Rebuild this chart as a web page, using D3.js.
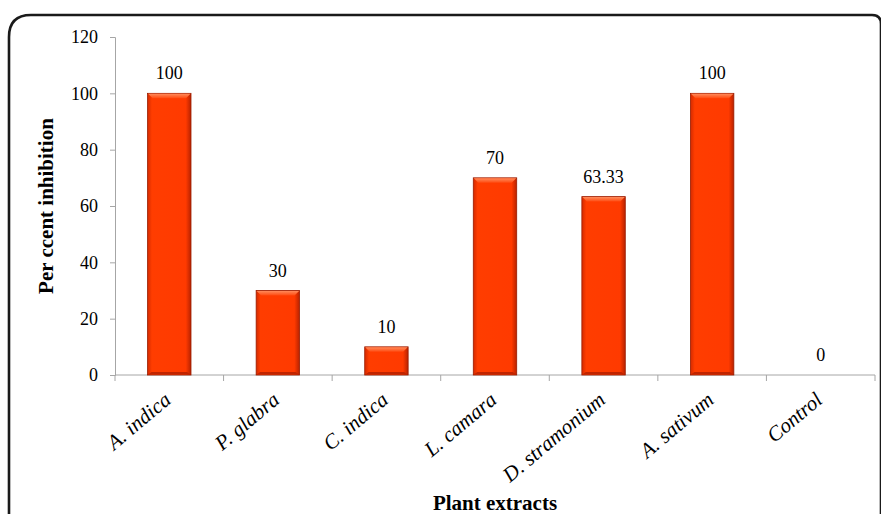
<!DOCTYPE html>
<html>
<head>
<meta charset="utf-8">
<script src="https://cdn.jsdelivr.net/npm/d3@7/dist/d3.min.js"></script>
<style>
  html, body { margin: 0; padding: 0; background: #fff; }
  svg { display: block; font-family: "Liberation Serif", "Times New Roman", serif; }
</style>
</head>
<body>
<svg id="chart" width="881" height="514"></svg>
<script>
// Per cent inhibition by plant extract
const categories = ["A. indica", "P. glabra", "C. indica", "L. camara", "D. stramonium", "A. sativum", "Control"];
const inhibition = [100, 30, 10, 70, 63.33, 100, 0];
const valueLabels = ["100", "30", "10", "70", "63.33", "100", "0"];
const yTicks = [0, 20, 40, 60, 80, 100, 120];

const svg = d3.select("#chart");
const W = 881, H = 514;
const plotLeft = 115, plotRight = 875, plotTop = 37, plotBottom = 375;

const x = d3.scaleBand().domain(categories).range([plotLeft, plotRight]).paddingInner(0.6).paddingOuter(0.3);
const y = d3.scaleLinear().domain([0, 120]).range([plotBottom, plotTop]);

// Outer frame with rounded corners
svg.append("path")
  .attr("d", `M9,${H + 10} L9,37 Q9,15 31,15 L872,15 Q881,15 881,24 L881,${H + 10}`)
  .attr("fill", "none").attr("stroke", "#1a1a1a").attr("stroke-width", 2.6);

// Bar gradients: bevelled orange-red
const defs = svg.append("defs");
const hg = defs.append("linearGradient").attr("id", "barH").attr("x1", 0).attr("x2", 1).attr("y1", 0).attr("y2", 0);
hg.append("stop").attr("offset", "0").attr("stop-color", "#d42a00");
hg.append("stop").attr("offset", "0.1").attr("stop-color", "#ff3d00");
hg.append("stop").attr("offset", "0.88").attr("stop-color", "#ff3a00");
hg.append("stop").attr("offset", "1").attr("stop-color", "#b82200");
const tg = defs.append("linearGradient").attr("id", "barTop").attr("x1", 0).attr("x2", 0).attr("y1", 0).attr("y2", 1);
tg.append("stop").attr("offset", "0").attr("stop-color", "#ff8a5a");
tg.append("stop").attr("offset", "1").attr("stop-color", "#ff4a10");

// Axes
const yAxis = svg.append("g").attr("transform", `translate(${plotLeft},0)`)
  .call(d3.axisLeft(y).tickValues(yTicks).tickSize(5).tickPadding(12).tickFormat(d3.format("d")));
yAxis.select(".domain").attr("stroke", "#a6a6a6");
yAxis.selectAll(".tick line").attr("stroke", "#a6a6a6");
yAxis.selectAll(".tick text").attr("font-size", 18).attr("fill", "#000")
  .attr("font-family", "Liberation Serif, Times New Roman, serif");

const bounds = categories.map((c, i) => plotLeft + x.step() * i).concat([plotRight]);
const xg = svg.append("g");
xg.append("line").attr("x1", plotLeft).attr("x2", plotRight).attr("y1", plotBottom).attr("y2", plotBottom).attr("stroke", "#a6a6a6");
xg.selectAll("line.tk").data(bounds).join("line").attr("class", "tk")
  .attr("x1", d => d).attr("x2", d => d).attr("y1", plotBottom).attr("y2", plotBottom + 6).attr("stroke", "#a6a6a6");

// Bars
const bars = svg.append("g").selectAll("g").data(categories.map((c, i) => ({ c, v: inhibition[i], lab: valueLabels[i] })))
  .join("g");
bars.filter(d => d.v > 0).each(function (d) {
  const g = d3.select(this);
  const bx = x(d.c), bw = x.bandwidth(), by = y(d.v), bh = y(0) - y(d.v);
  g.append("rect").attr("x", bx).attr("y", by).attr("width", bw).attr("height", bh)
    .attr("fill", "url(#barH)").attr("stroke", "#9a1c00").attr("stroke-width", 0.8);
  g.append("polygon")
    .attr("points", `${bx + 0.5},${by + 0.5} ${bx + bw - 0.5},${by + 0.5} ${bx + bw - 5},${by + 5} ${bx + 5},${by + 5}`)
    .attr("fill", "url(#barTop)");
  g.append("polygon")
    .attr("points", `${bx + 0.5},${by + bh - 0.5} ${bx + bw - 0.5},${by + bh - 0.5} ${bx + bw - 4},${by + bh - 3} ${bx + 4},${by + bh - 3}`)
    .attr("fill", "#c02400");
});

// Value labels
bars.append("text")
  .attr("x", d => x(d.c) + x.bandwidth() / 2)
  .attr("y", d => y(d.v) - 14)
  .attr("text-anchor", "middle").attr("font-size", 18).attr("fill", "#000")
  .text(d => d.lab);

// Category labels, rotated
svg.append("g").selectAll("text").data(categories).join("text")
  .attr("transform", d => `translate(${x(d) + x.bandwidth() / 2 + 3},${plotBottom + 27}) rotate(-40)`)
  .attr("text-anchor", "end").attr("font-size", 21).attr("font-style", "italic").attr("fill", "#000")
  .text(d => d);

// Axis titles
svg.append("text")
  .attr("transform", `translate(53,${(plotTop + plotBottom) / 2}) rotate(-90)`)
  .attr("text-anchor", "middle").attr("font-size", 21).attr("font-weight", "bold").attr("fill", "#000")
  .text("Per ccent inhibition");
svg.append("text")
  .attr("x", (plotLeft + plotRight) / 2).attr("y", 510)
  .attr("text-anchor", "middle").attr("font-size", 21).attr("font-weight", "bold").attr("fill", "#000")
  .text("Plant extracts");
</script>
</body>
</html>
